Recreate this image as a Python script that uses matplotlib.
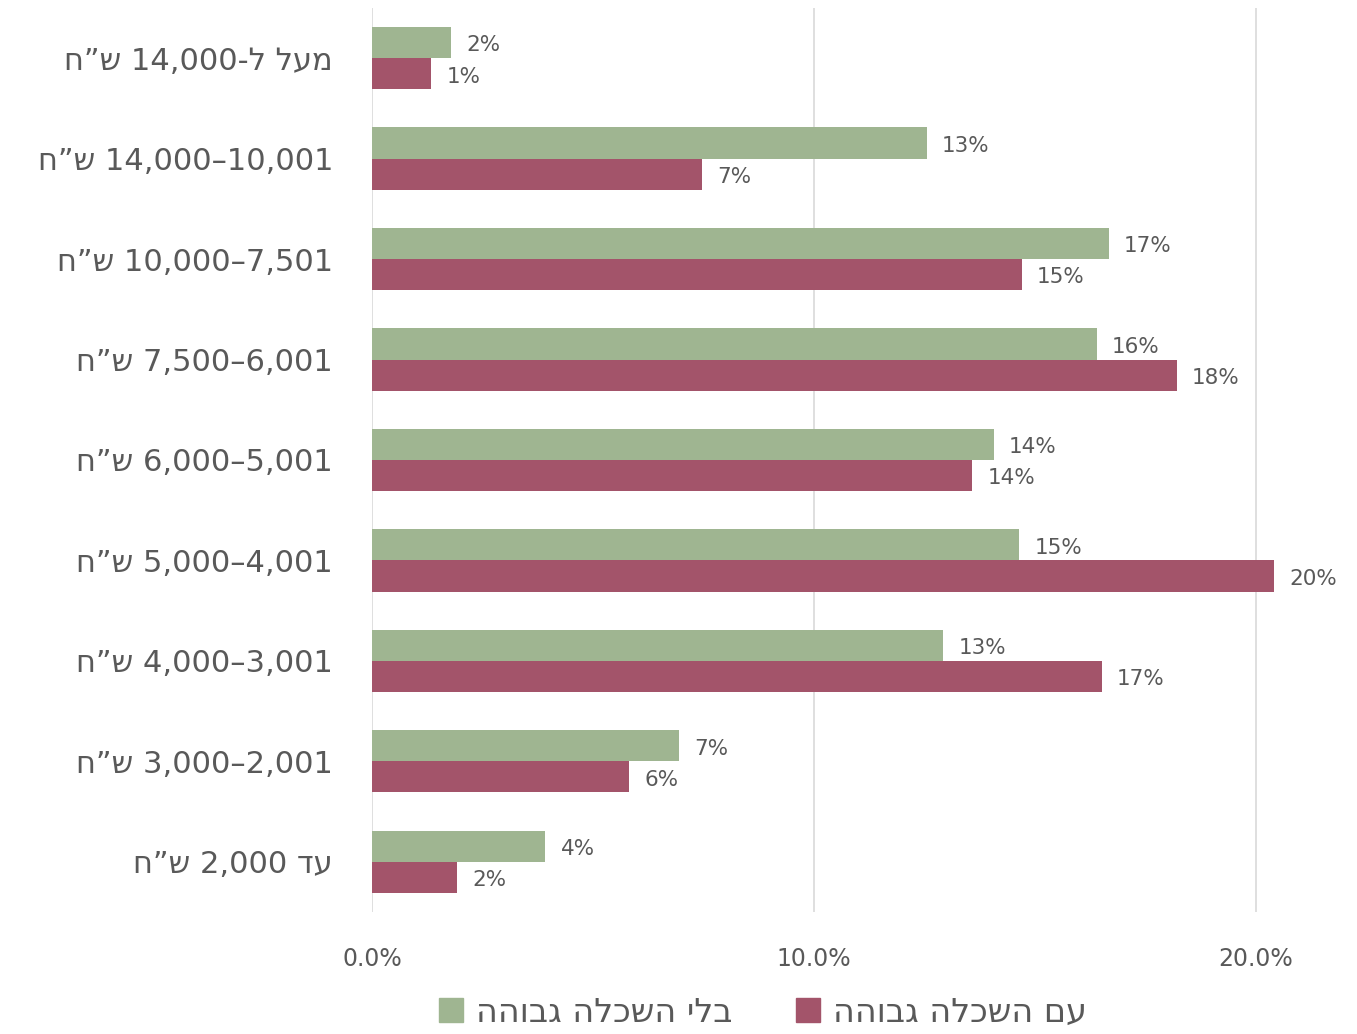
import re
import matplotlib
matplotlib.use("Agg")
import matplotlib.pyplot as plt
from matplotlib.patches import Patch
import numpy as np

plt.rcParams['font.family'] = ['DejaVu Sans']

categories = [
    "מעל ל-14,000 ש”ח",
    "10,001–14,000 ש”ח",
    "7,501–10,000 ש”ח",
    "6,001–7,500 ש”ח",
    "5,001–6,000 ש”ח",
    "4,001–5,000 ש”ח",
    "3,001–4,000 ש”ח",
    "2,001–3,000 ש”ח",
    "עד 2,000 ש”ח",
]
no_higher_ed = [1.8, 12.55, 16.67, 16.4, 14.07, 14.65, 12.93, 6.95, 3.92]
with_higher_ed = [1.34, 7.47, 14.7, 18.21, 13.59, 20.41, 16.51, 5.82, 1.93]
series_names = ["בלי השכלה גבוהה", "עם השכלה גבוהה"]
xticks = [0, 10, 20]


def visual(s):
    tokens = re.findall(r'[0-9][0-9,.]*|[^0-9]+', s)
    return ''.join(t if t[0].isdigit() else t[::-1] for t in reversed(tokens))


GREEN = "#9fb591"
RED = "#a3546a"
TXT = "#595959"

fig = plt.figure(figsize=(13.57, 10.34), dpi=100)
ax = fig.add_axes([0.2741, 0.118, 0.7099, 0.8743])

n = len(categories)
y = np.arange(n)[::-1]
h = 0.31
b1 = ax.barh(y + h / 2, no_higher_ed, height=h, color=GREEN, zorder=3)
b2 = ax.barh(y - h / 2, with_higher_ed, height=h, color=RED, zorder=3)

for bars in (b1, b2):
    anns = ax.bar_label(bars, labels=[f"{round(v)}%" for v in bars.datavalues],
                        padding=11, fontsize=15.5, color=TXT)
    for a in anns:
        a.xyann = (11, -2)

ax.set_ylim(-0.5, n - 0.5)
ax.set_xlim(0, 21.8)
ax.set_yticks(y)
ax.set_yticklabels([visual(c) for c in categories], fontsize=22, color=TXT)
ax.set_xticks(xticks)
ax.set_xticklabels([f"{v:.1f}%" for v in xticks], fontsize=17, color=TXT)
ax.tick_params(axis='both', length=0)
ax.tick_params(axis='y', pad=28)
ax.tick_params(axis='x', pad=25)
ax.grid(axis='x', color="#d9d9d9", linewidth=1.2, zorder=0)
for s in ax.spines.values():
    s.set_visible(False)

handles = [Patch(color=GREEN), Patch(color=RED)]
fig.legend(handles, [visual(s) for s in series_names], ncol=2,
           loc='center', bbox_to_anchor=(0.562, 0.021), frameon=False,
           fontsize=24, labelcolor=TXT, handlelength=0.72, handleheight=0.72,
           columnspacing=1.9, handletextpad=0.4, borderpad=0.0)

fig.savefig("out.png", dpi=100)
